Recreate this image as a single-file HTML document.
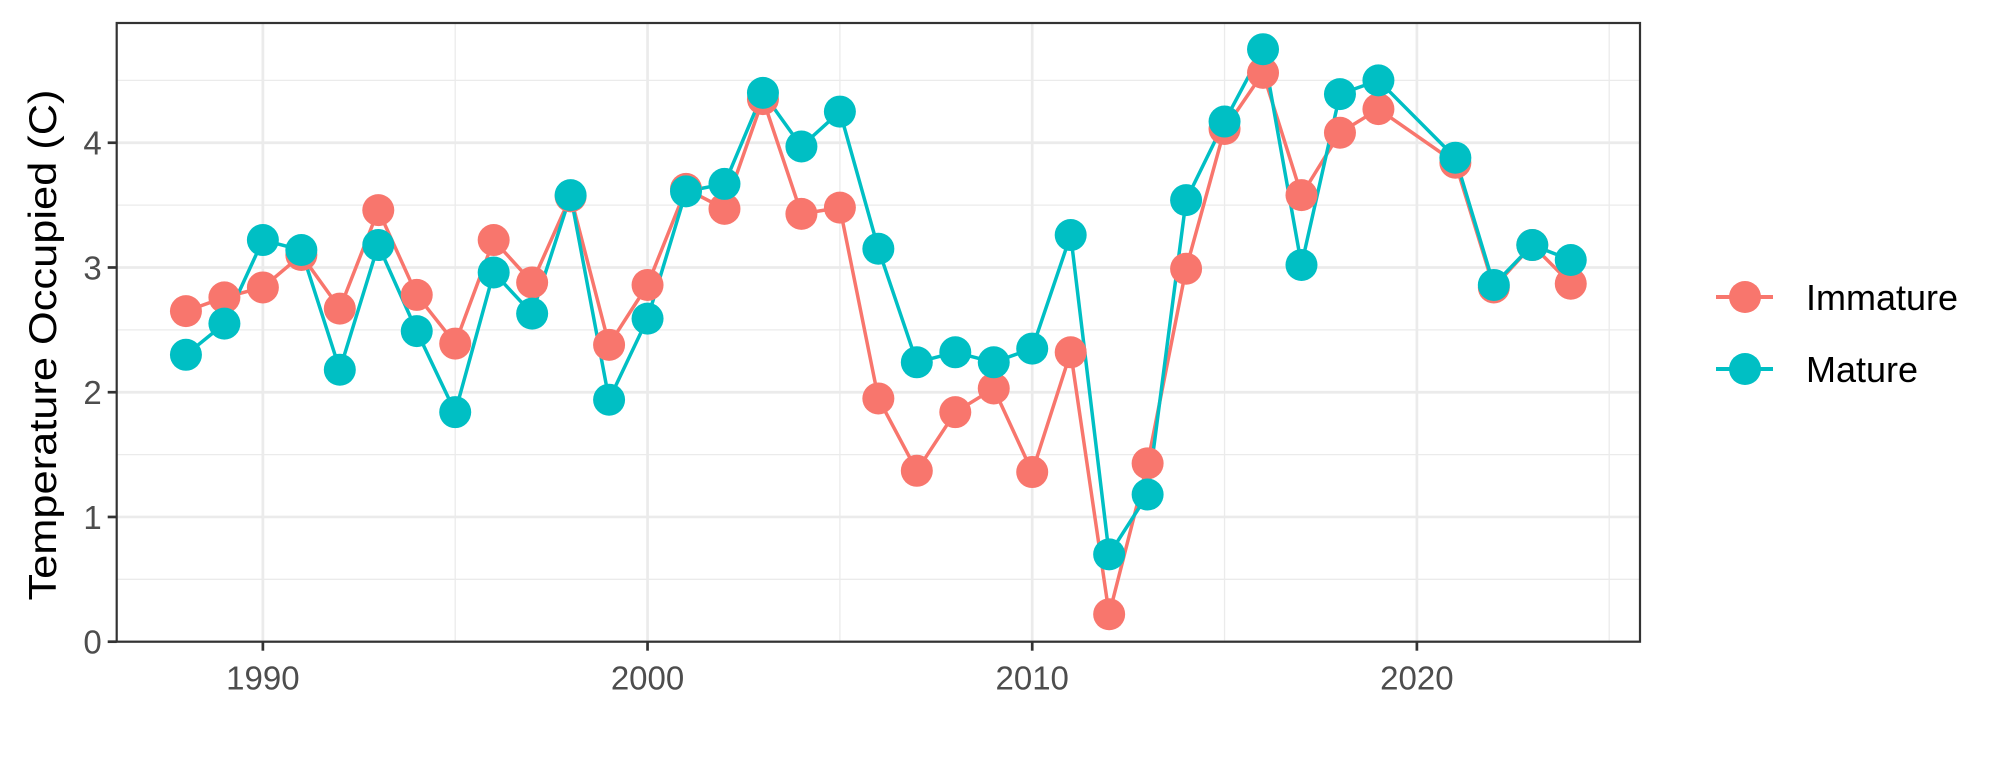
<!DOCTYPE html>
<html><head><meta charset="utf-8"><style>
html,body{margin:0;padding:0;background:#fff;}
svg{display:block;font-family:"Liberation Sans",Arial,sans-serif;}
</style></head><body>
<svg id="chart" width="2004" height="772" viewBox="0 0 2004 772" xmlns="http://www.w3.org/2000/svg">
<rect width="2004" height="772" fill="#fff"/>
<g id="grid"></g>
<g id="series"></g>
<rect x="116.7" y="23" width="1523.3" height="618.7" fill="none" stroke="#333" stroke-width="2.2"/>
<g id="axes"></g>
<text x="0" y="0" transform="translate(56,345) rotate(-90)" text-anchor="middle" font-size="39" fill="#000" textLength="511" lengthAdjust="spacingAndGlyphs">Temperature Occupied (C)</text>
<g>
  <g>
    <line x1="1716" y1="297" x2="1773" y2="297" stroke="#F8766D" stroke-width="4"/>
    <circle cx="1745" cy="297" r="16" fill="#F8766D"/>
    <text x="1806" y="310" font-size="36" fill="#000">Immature</text>
  </g>
  <g>
    <line x1="1716" y1="369" x2="1773" y2="369" stroke="#00BFC4" stroke-width="4"/>
    <circle cx="1745" cy="369" r="16" fill="#00BFC4"/>
    <text x="1806" y="382" font-size="36" fill="#000">Mature</text>
  </g>
</g>
</svg>
<script>
const years = [1988,1989,1990,1991,1992,1993,1994,1995,1996,1997,1998,1999,2000,2001,2002,2003,2004,2005,2006,2007,2008,2009,2010,2011,2012,2013,2014,2015,2016,2017,2018,2019,2021,2022,2023,2024];
const immature = [2.65,2.76,2.84,3.10,2.67,3.46,2.78,2.39,3.22,2.88,3.57,2.38,2.86,3.63,3.47,4.35,3.43,3.48,1.95,1.37,1.84,2.03,1.36,2.32,0.22,1.43,2.99,4.11,4.56,3.58,4.08,4.27,3.84,2.84,3.18,2.87];
const mature = [2.30,2.55,3.22,3.14,2.18,3.18,2.49,1.84,2.96,2.63,3.58,1.94,2.59,3.61,3.67,4.40,3.97,4.25,3.15,2.24,2.32,2.24,2.35,3.26,0.70,1.18,3.54,4.17,4.75,3.02,4.39,4.50,3.88,2.86,3.18,3.06];
const xTicks = [1990,2000,2010,2020];
const xMinor = [1985,1995,2005,2015,2025];
const yTicks = [0,1,2,3,4];
const yMinor = [0.5,1.5,2.5,3.5,4.5];

const NS = "http://www.w3.org/2000/svg";
const PL = 116.7, PR = 1640, PT = 23, PB = 641.7;
const XMIN = 1986.2, XMAX = 2025.8, YMIN = 0, YMAX = 4.96;
const xs = v => PL + (v - XMIN) / (XMAX - XMIN) * (PR - PL);
const ys = v => PB - (v - YMIN) / (YMAX - YMIN) * (PB - PT);
function mk(tag, attrs, parent){const e=document.createElementNS(NS,tag);for(const k in attrs)e.setAttribute(k,attrs[k]);parent.appendChild(e);return e;}

const grid = document.getElementById('grid');
yMinor.forEach(v=>{const l=mk('line',{x1:PL,x2:PR,y1:ys(v),y2:ys(v),stroke:'#ebebeb','stroke-width':1.3},grid);

});
xMinor.forEach(v=>{if(xs(v)<PL||xs(v)>PR)return;const l=mk('line',{x1:xs(v),x2:xs(v),y1:PT,y2:PB,stroke:'#ebebeb','stroke-width':1.3},grid);

});
yTicks.forEach(v=>{const l=mk('line',{x1:PL,x2:PR,y1:ys(v),y2:ys(v),stroke:'#ebebeb','stroke-width':2.7},grid);

});
xTicks.forEach(v=>{const l=mk('line',{x1:xs(v),x2:xs(v),y1:PT,y2:PB,stroke:'#ebebeb','stroke-width':2.7},grid);

});

const axes = document.getElementById('axes');
yTicks.forEach(v=>{
 const t=mk('line',{x1:PL-9,x2:PL,y1:ys(v),y2:ys(v),stroke:'#333','stroke-width':2.7},axes);
 
 
 const tx=mk('text',{x:PL-15,y:ys(v)+12,'text-anchor':'end','font-size':33,fill:'#4d4d4d'},axes);
 tx.textContent=String(v);
 
 
});
xTicks.forEach(v=>{
 const t=mk('line',{x1:xs(v),x2:xs(v),y1:PB,y2:PB+9,stroke:'#333','stroke-width':2.7},axes);
 
 
 const tx=mk('text',{x:xs(v),y:PB+48,'text-anchor':'middle','font-size':33,fill:'#4d4d4d'},axes);
 tx.textContent=String(v);
 
 
});

const series = document.getElementById('series');
const defs = [{vals:immature,color:'#F8766D',name:'immature'},{vals:mature,color:'#00BFC4',name:'mature'}];
defs.forEach(s=>{
 const pts=years.map((y,i)=>xs(y)+','+ys(s.vals[i])).join(' ');
 const pl=mk('polyline',{points:pts,fill:'none',stroke:s.color,'stroke-width':3.5,'stroke-linejoin':'round'},series);
 
 
});
defs.forEach(s=>{
 years.forEach((y,i)=>{
  const c=mk('circle',{cx:xs(y),cy:ys(s.vals[i]),r:16,fill:s.color},series);
  
  
 });
});
</script>
</body></html>
